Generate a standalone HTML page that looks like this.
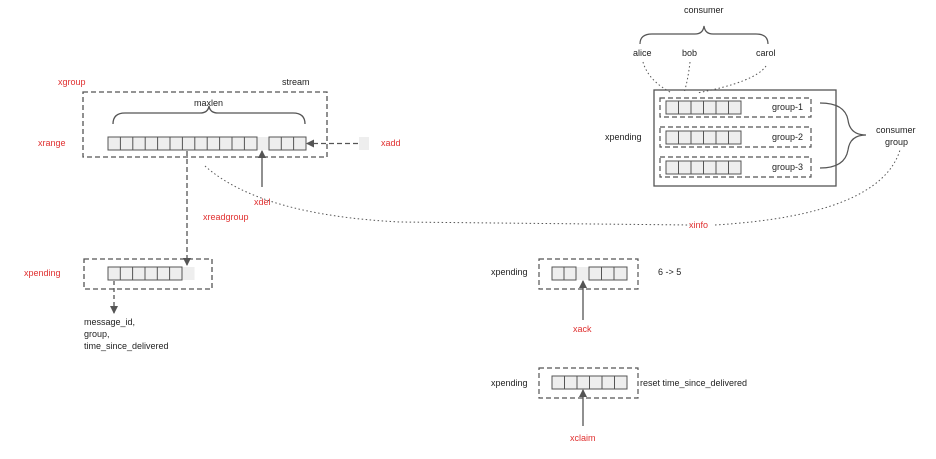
<!DOCTYPE html>
<html><head><meta charset="utf-8"><style>
html,body{margin:0;padding:0;background:#fff;}
svg text{font-family:"Liberation Sans",sans-serif;font-size:9px;fill:#222;}
svg text.r{fill:#e03030;}
</style></head><body>
<svg width="936" height="454" viewBox="0 0 936 454" xmlns="http://www.w3.org/2000/svg">
<defs>
<marker id="ah" markerWidth="8" markerHeight="8" refX="7" refY="4" orient="auto" markerUnits="userSpaceOnUse"><path d="M0,0 L8,4 L0,8 z" fill="#555"/></marker>
</defs>
<g fill="none" stroke="#555" stroke-width="1.3">
<!-- stream box -->
<rect x="83" y="92" width="244" height="65" stroke-dasharray="5,3"/>
<!-- brace maxlen -->
<path d="M113,124 Q113,113 125,113 L200,113 Q208,113 209,106 Q210,113 218,113 L293,113 Q305,113 305,124"/>
</g>
<g stroke="#555" stroke-width="1" fill="#eee">
<!-- stream cells -->
<rect x="108" y="137" width="149" height="13"/>
<rect x="269" y="137" width="37" height="13"/>
</g>
<rect x="257.5" y="137" width="11" height="13" fill="#eee"/>
<g stroke="#555" stroke-width="1">
<path d="M120.4,137v13M132.8,137v13M145.2,137v13M157.6,137v13M170,137v13M182.4,137v13M194.8,137v13M207.2,137v13M219.6,137v13M232,137v13M244.4,137v13M281.3,137v13M293.6,137v13"/>
</g>
<rect x="359" y="137" width="10" height="13" fill="#eee"/>
<g fill="none" stroke="#555" stroke-width="1.3">
<line x1="358" y1="143.5" x2="307" y2="143.5" stroke-dasharray="5,3" marker-end="url(#ah)"/>
<line x1="262" y1="187" x2="262" y2="151" marker-end="url(#ah)"/>
<line x1="187" y1="151" x2="187" y2="265" stroke-dasharray="5,3" marker-end="url(#ah)"/>
<!-- dotted xinfo curve -->
<path d="M205,166 Q260,215 400,222 L690,225" stroke-dasharray="1.5,2.5" stroke-width="1"/>
<path d="M715,225 Q880,215 900,150" stroke-dasharray="1.5,2.5" stroke-width="1"/>
<!-- pending left -->
<rect x="84" y="259" width="128" height="30" stroke-dasharray="5,3"/>
<line x1="114" y1="281" x2="114" y2="313" stroke-dasharray="4,3" marker-end="url(#ah)"/>
</g>
<rect x="108" y="267" width="74" height="13" fill="#eee" stroke="#555"/>
<rect x="182.5" y="267" width="12" height="13" fill="#eee"/>
<path d="M120.3,267v13M132.6,267v13M145,267v13M157.3,267v13M169.6,267v13" stroke="#555"/>

<!-- right top -->
<rect x="654" y="90" width="182" height="96" fill="none" stroke="#555" stroke-width="1.3"/>
<g fill="none" stroke="#555" stroke-width="1.2" stroke-dasharray="5,3">
<rect x="660" y="98" width="151" height="19"/>
<rect x="660" y="127" width="151" height="20"/>
<rect x="660" y="157" width="151" height="20"/>
</g>
<g fill="#eee" stroke="#555" stroke-width="1">
<rect x="666" y="101" width="75" height="13"/>
<rect x="666" y="131" width="75" height="13"/>
<rect x="666" y="161" width="75" height="13"/>
</g>
<path d="M678.5,101v13M691,101v13M703.5,101v13M716,101v13M728.5,101v13M678.5,131v13M691,131v13M703.5,131v13M716,131v13M728.5,131v13M678.5,161v13M691,161v13M703.5,161v13M716,161v13M728.5,161v13" stroke="#555"/>
<g fill="none" stroke="#555" stroke-width="1.2">
<path d="M640,44 Q640,34 652,34 L695,34 Q703,34 704,26 Q705,34 713,34 L756,34 Q768,34 768,44"/>
<path d="M820,103 Q845,103 848,120 Q850,135 866,135 Q850,135 848,150 Q845,168 820,168"/>
<g stroke-dasharray="1.5,2.5" stroke-width="1">
<path d="M643,62 Q648,80 670,92"/>
<path d="M690,62 Q688,80 684,93"/>
<path d="M766,66 Q755,82 697,93"/>
</g>
</g>

<!-- xack -->
<rect x="539" y="259" width="99" height="30" fill="none" stroke="#555" stroke-width="1.2" stroke-dasharray="5,3"/>
<rect x="552" y="267" width="24" height="13" fill="#eee" stroke="#555"/>
<rect x="576.5" y="267" width="12" height="13" fill="#eee"/>
<rect x="589" y="267" width="38" height="13" fill="#eee" stroke="#555"/>
<path d="M564,267v13M601.5,267v13M614,267v13" stroke="#555"/>
<line x1="583" y1="320" x2="583" y2="281" stroke="#555" stroke-width="1.3" marker-end="url(#ah)"/>
<!-- xclaim -->
<rect x="539" y="368" width="99" height="30" fill="none" stroke="#555" stroke-width="1.2" stroke-dasharray="5,3"/>
<rect x="552" y="376" width="75" height="13" fill="#eee" stroke="#555"/>
<path d="M564.5,376v13M577,376v13M589.5,376v13M602,376v13M614.5,376v13" stroke="#555"/>
<line x1="583" y1="426" x2="583" y2="390" stroke="#555" stroke-width="1.3" marker-end="url(#ah)"/>

<!-- text -->
<text class="r" x="58" y="85">xgroup</text>
<text x="282" y="85">stream</text>
<text x="194" y="106">maxlen</text>
<text class="r" x="38" y="146">xrange</text>
<text class="r" x="381" y="146">xadd</text>
<text class="r" x="254" y="205">xdel</text>
<text class="r" x="203" y="220">xreadgroup</text>
<text class="r" x="24" y="276">xpending</text>
<text x="84" y="325">message_id,</text>
<text x="84" y="337">group,</text>
<text x="84" y="349">time_since_delivered</text>
<text x="684" y="13">consumer</text>
<text x="633" y="56">alice</text>
<text x="682" y="56">bob</text>
<text x="756" y="56">carol</text>
<text x="772" y="110">group-1</text>
<text x="772" y="140">group-2</text>
<text x="772" y="170">group-3</text>
<text x="605" y="140">xpending</text>
<text x="876" y="133">consumer</text>
<text x="885" y="145">group</text>
<text class="r" x="689" y="228">xinfo</text>
<text x="491" y="275">xpending</text>
<text x="658" y="275">6 -&gt; 5</text>
<text class="r" x="573" y="332">xack</text>
<text x="491" y="386">xpending</text>
<text x="640" y="386">reset time_since_delivered</text>
<text class="r" x="570" y="441">xclaim</text>
</svg>
</body></html>
